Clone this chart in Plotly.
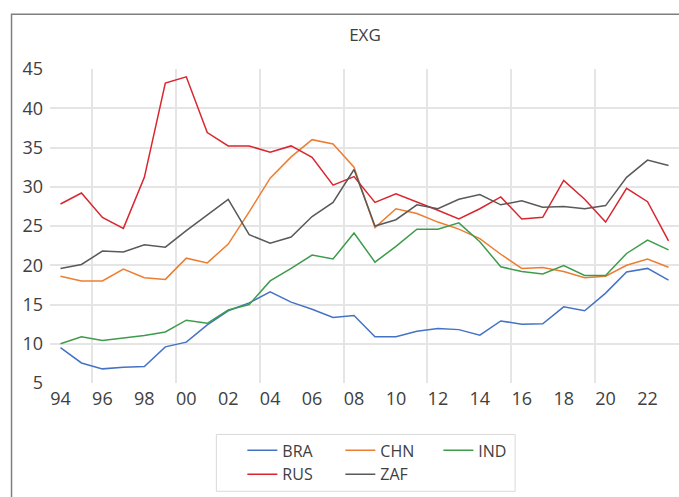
import plotly.graph_objects as go

years = list(range(1994, 2024))
tick_years = list(range(1994, 2023, 2))
tick_labels = ["94", "96", "98", "00", "02", "04", "06", "08", "10", "12", "14", "16", "18", "20", "22"]
y_ticks = [5, 10, 15, 20, 25, 30, 35, 40, 45]

BRA = [9.5, 7.55, 6.8, 7.0, 7.1, 9.6, 10.2, 12.4, 14.2, 15.2, 16.6, 15.3, 14.4, 13.35, 13.6,
       10.9, 10.9, 11.6, 11.95, 11.8, 11.1, 12.9, 12.5, 12.55, 14.7, 14.2, 16.45, 19.15, 19.6, 18.1]
CHN = [18.6, 18.0, 18.0, 19.5, 18.4, 18.2, 20.9, 20.3, 22.7, 26.8, 31.1, 33.8, 36.0, 35.45, 32.5,
       24.8, 27.2, 26.6, 25.5, 24.6, 23.4, 21.4, 19.6, 19.7, 19.2, 18.4, 18.6, 20.0, 20.8, 19.75]
IND = [10.0, 10.9, 10.4, 10.7, 11.05, 11.5, 13.0, 12.6, 14.3, 15.0, 18.0, 19.6, 21.3, 20.8, 24.1,
       20.4, 22.4, 24.6, 24.6, 25.4, 23.0, 19.8, 19.2, 18.9, 19.95, 18.7, 18.7, 21.5, 23.2, 21.95]
RUS = [27.8, 29.2, 26.1, 24.7, 31.2, 43.2, 44.0, 36.9, 35.2, 35.2, 34.4, 35.2, 33.76, 30.2, 31.3,
       28.0, 29.1, 28.1, 27.0, 25.9, 27.2, 28.7, 25.9, 26.1, 30.8, 28.4, 25.5, 29.8, 28.1, 23.1]
ZAF = [19.6, 20.1, 21.8, 21.7, 22.6, 22.3, 24.4, 26.4, 28.4, 23.9, 22.8, 23.6, 26.2, 28.0, 32.2,
       25.0, 25.8, 27.7, 27.2, 28.4, 29.0, 27.7, 28.2, 27.4, 27.5, 27.2, 27.6, 31.2, 33.4, 32.7]

series = [
    ("BRA", BRA, "#4472C4", "legend"),
    ("CHN", CHN, "#ED7D31", "legend"),
    ("IND", IND, "#3E9B4C", "legend"),
    ("RUS", RUS, "#D9262E", "legend2"),
    ("ZAF", ZAF, "#595959", "legend2"),
]

FONT = "Open Sans"
TXT = "#404040"

fig = go.Figure()
for name, vals, color, lg in series:
    fig.add_trace(go.Scatter(x=years, y=vals, mode="lines", name=name,
                             line=dict(color=color, width=1.5), legend=lg))

W, H = 679, 497
L, R, T, B = 49.5, 0, 68.5, 113.6
pw = W - L - R
ph = H - T - B

def px(x):
    return (x - L) / pw

def py(y):
    return (H - B - y) / ph

legend_common = dict(orientation="h", xanchor="left", yanchor="middle",
                     font=dict(family=FONT, size=16, color=TXT),
                     bgcolor="rgba(0,0,0,0)", entrywidth=53, traceorder="normal")

fig.update_layout(
    width=W, height=H,
    margin=dict(l=L, r=R, t=T, b=B, pad=0),
    paper_bgcolor="white", plot_bgcolor="white",
    title=dict(text="EXG", x=365 / W, y=1 - 35 / H, xanchor="center", yanchor="middle",
               font=dict(family=FONT, size=17, color=TXT)),
    xaxis=dict(range=[1993.5, 2023.5], tickmode="array", tickvals=tick_years, ticktext=tick_labels,
               showgrid=False, zeroline=False, showline=False, ticks="",
               tickfont=dict(family=FONT, size=18, color=TXT), ticklabelstandoff=3,
               minor=dict(tickmode="linear", tick0=1995.5, dtick=4, showgrid=True,
                          gridcolor="#E5E5E5", gridwidth=1.5, ticks="")),
    yaxis=dict(range=[5, 45], tickmode="array", tickvals=y_ticks,
               showgrid=False, zeroline=False, showline=False, ticks="",
               tickfont=dict(family=FONT, size=18, color=TXT), ticklabelstandoff=6,
               minor=dict(tickmode="array", tickvals=y_ticks[1:-1], showgrid=True,
                          gridcolor="#E5E5E5", gridwidth=1.5, ticks="")),
    legend=dict(x=px(242), y=py(451), **legend_common),
    legend2=dict(x=px(242), y=py(475), **legend_common),
    showlegend=True,
    shapes=[
        dict(type="rect", xref="paper", yref="paper", x0=px(11), x1=1.2, y0=-0.6, y1=py(13.7),
             line=dict(color="#7F7F7F", width=1.5), fillcolor="rgba(0,0,0,0)", layer="below"),
        dict(type="rect", xref="paper", yref="paper", x0=px(216), x1=px(515), y0=py(492), y1=py(435),
             line=dict(color="#D9D9D9", width=1), fillcolor="rgba(0,0,0,0)", layer="below"),
    ],
)

fig.write_html("out.html", config={"displayModeBar": False},
               post_script="document.body.style.margin='0';document.body.style.overflow='hidden';")
